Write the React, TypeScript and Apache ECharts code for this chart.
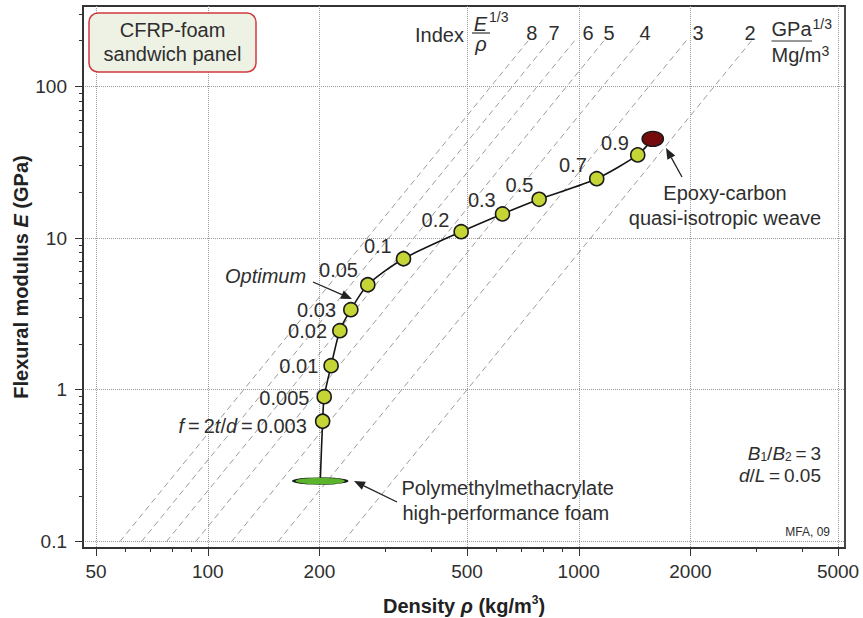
import React, { useEffect, useRef } from 'react';
import * as echarts from 'echarts';

// ---------- data (density in kg/m^3, modulus in GPa) ----------
const xTickValues = [50, 100, 200, 500, 1000, 2000, 5000];
const xMinorTickValues = [60, 70, 80, 90, 300, 400, 600, 700, 800, 900, 3000, 4000];
const yTickValues = [0.1, 1, 10, 100];
const yMinorTickValues = [0.2, 0.3, 0.4, 0.5, 0.6, 0.7, 0.8, 0.9, 2, 3, 4, 5, 6, 7, 8, 9, 20, 30, 40, 50, 60, 70, 80, 90, 200, 300];
const densityExtent = [46.1, 5220];
const modulusExtent = [0.0906, 338];

const faceFraction = ['0.003', '0.005', '0.01', '0.02', '0.03', '0.05', '0.1', '0.2', '0.3', '0.5', '0.7', '0.9'];
const panelDensity = [204, 206, 215, 227, 243, 270, 337, 482, 623, 782, 1118, 1442];
const panelModulus = [0.62, 0.9, 1.44, 2.45, 3.37, 4.92, 7.3, 11.0, 14.4, 18.0, 24.6, 35.3];

const foamPoint = [201, 0.25];
const epoxyPoint = [1583, 45.0];

const indexValues = ['8', '7', '6', '5', '4', '3', '2'];
const indexLineLowDensity = [58.0, 66.3, 77.4, 92.8, 116, 154.7, 232];
const indexLineHighDensity = [731, 835, 975, 1170, 1462, 1949, 2924];
const indexLineLowModulus = 0.1;
const indexLineHighModulus = 200;

// ---------- layout ----------
const FONT = '"Liberation Sans", Arial, Helvetica, sans-serif';
const TXT = '#2e2e2e';
const pointLabelOffsets = [
  [-3, 5], [-2, 1], [0, 0], [0, 0], [-2, 0], [3, -15],
  [1, -13], [1, -12], [6, -14], [7, -14], [3, -14], [4, -12],
];
const indexLabelX = [531.7, 554, 588, 609, 645, 698, 750];

const L = (v: number) => Math.log10(v);

function txt(x: number, y: number, text: string, extra: any = {}) {
  const align = extra.align || 'left';
  return {
    type: 'text',
    x,
    y,
    z: 20,
    style: {
      text,
      fill: TXT,
      fontSize: extra.fontSize || 20,
      fontFamily: FONT,
      fontStyle: extra.fontStyle || 'normal',
      align,
      textAlign: align,
      verticalAlign: 'middle',
      textVerticalAlign: 'middle',
      rich: extra.rich,
    },
  };
}

function arrow(x1: number, y1: number, x2: number, y2: number) {
  const dx = x2 - x1;
  const dy = y2 - y1;
  const len = Math.hypot(dx, dy);
  const ux = dx / len;
  const uy = dy / len;
  const hl = 11;
  const hw = 4.5;
  const bx = x2 - ux * hl;
  const by = y2 - uy * hl;
  const px = -uy;
  const py = ux;
  return [
    { type: 'line', z: 20, shape: { x1, y1, x2: bx, y2: by }, style: { stroke: '#222', lineWidth: 1.3 } },
    {
      type: 'polygon',
      z: 20,
      shape: { points: [[x2, y2], [bx + px * hw, by + py * hw], [bx - px * hw, by - py * hw]] },
      style: { fill: '#222' },
    },
  ];
}

const richBase = (size: number, extra: any = {}) => ({ fontSize: size, fontFamily: FONT, fill: TXT, color: TXT, ...extra });

const fmt = (v: number) => String(Math.round(Math.pow(10, v) * 1000) / 1000);

export default function App() {
  const ref = useRef<HTMLDivElement>(null);

  useEffect(() => {
    if (!ref.current) return;
    const chart = echarts.init(ref.current, null, { renderer: 'svg', width: 863, height: 618 });

    const axisLineStyle = { color: '#333', width: 1.8 };
    const nameRich = {
      b: { fontFamily: FONT, fontWeight: 'bold', fontSize: 20, color: '#222', lineHeight: 24 },
      i: { fontFamily: FONT, fontWeight: 'bold', fontStyle: 'italic', fontSize: 20, color: '#222', lineHeight: 24 },
      s: { fontFamily: FONT, fontWeight: 'bold', fontSize: 12, color: '#222', verticalAlign: 'top' },
    };

    const xMin = L(densityExtent[0]);
    const xMax = L(densityExtent[1]);
    const yMin = L(modulusExtent[0]);
    const yMax = L(modulusExtent[1]);

    const indexSeries = indexValues.map((name, i) => ({
      type: 'line',
      name: 'index ' + name,
      xAxisIndex: 0,
      yAxisIndex: 0,
      data: [
        [L(indexLineLowDensity[i]), L(indexLineLowModulus)],
        [L(indexLineHighDensity[i]), L(indexLineHighModulus)],
      ],
      symbol: 'none',
      silent: true,
      z: 1,
      lineStyle: { color: '#9c9c9c', width: 1, type: [6, 4] },
    }));

    const curveData = [foamPoint, ...panelDensity.map((d, i) => [d, panelModulus[i]]), epoxyPoint].map((p) => [
      L(p[0]),
      L(p[1]),
    ]);

    const pointData = panelDensity.map((d, i) => ({
      value: [L(d), L(panelModulus[i])],
      label: { offset: pointLabelOffsets[i] },
    }));

    const option: any = {
      animation: false,
      backgroundColor: '#ffffff',
      textStyle: { fontFamily: FONT },
      grid: {
        left: 83,
        right: 18,
        top: 6,
        bottom: 70,
        show: true,
        borderColor: '#333',
        borderWidth: 1.8,
        containLabel: false,
        outerBoundsMode: 'none',
      },
      xAxis: [
        {
          type: 'value',
          min: xMin,
          max: xMax,
          position: 'bottom',
          name: '{b|Density }{i|ρ}{b| (kg/m}{s|3}{b|)}',
          nameLocation: 'middle',
          nameGap: 46,
          nameMoveOverlap: false,
          nameTextStyle: { rich: nameRich },
          axisLine: { show: true, onZero: false, lineStyle: axisLineStyle },
          axisTick: { show: true, inside: false, length: 8, customValues: xTickValues.map(L), lineStyle: { color: '#333', width: 1 } },
          axisLabel: {
            customValues: xTickValues.map(L),
            formatter: fmt,
            fontSize: 19,
            fontFamily: FONT,
            color: TXT,
            margin: 14,
          },
          splitLine: { show: true, lineStyle: { color: '#9a9a9a', type: 'dotted', width: 1 } },
        },
        {
          type: 'value',
          min: xMin,
          max: xMax,
          position: 'bottom',
          axisLine: { show: false, onZero: false },
          axisTick: { show: true, length: 4, customValues: xMinorTickValues.map(L), lineStyle: { color: '#333', width: 1 } },
          axisLabel: { show: false },
          splitLine: { show: false },
        },
      ],
      yAxis: [
        {
          type: 'value',
          min: yMin,
          max: yMax,
          position: 'left',
          name: '{b|Flexural modulus }{i|E}{b| (GPa)}',
          nameLocation: 'middle',
          nameRotate: 90,
          nameGap: 50,
          nameMoveOverlap: false,
          nameTextStyle: { rich: nameRich },
          axisLine: { show: true, onZero: false, lineStyle: axisLineStyle },
          axisTick: { show: true, length: 8, customValues: yTickValues.map(L), lineStyle: { color: '#333', width: 1 } },
          axisLabel: {
            customValues: yTickValues.map(L),
            formatter: fmt,
            fontSize: 19,
            fontFamily: FONT,
            color: TXT,
            margin: 16,
          },
          splitLine: { show: true, lineStyle: { color: '#9a9a9a', type: 'dotted', width: 1 } },
        },
        {
          type: 'value',
          min: yMin,
          max: yMax,
          position: 'left',
          axisLine: { show: false, onZero: false },
          axisTick: { show: true, length: 4, customValues: yMinorTickValues.map(L), lineStyle: { color: '#333', width: 1 } },
          axisLabel: { show: false },
          splitLine: { show: false },
        },
      ],
      series: [
        ...indexSeries,
        {
          type: 'line',
          name: 'panel curve',
          xAxisIndex: 0,
          yAxisIndex: 0,
          data: curveData,
          smooth: 0.25,
          symbol: 'none',
          silent: true,
          z: 3,
          lineStyle: { color: '#151515', width: 1.6 },
        },
        {
          type: 'scatter',
          name: 'foam',
          xAxisIndex: 0,
          yAxisIndex: 0,
          data: [[L(foamPoint[0]), L(foamPoint[1])]],
          symbol: 'circle',
          symbolSize: [53, 7],
          z: 4,
          itemStyle: { color: '#5cb32c', borderColor: '#1a1a1a', borderWidth: 1.3, opacity: 1 },
        },
        {
          type: 'scatter',
          name: 'epoxy-carbon',
          xAxisIndex: 0,
          yAxisIndex: 0,
          data: [[L(epoxyPoint[0]), L(epoxyPoint[1])]],
          symbol: 'circle',
          symbolSize: [21, 15],
          z: 4,
          itemStyle: { color: '#760b0e', borderColor: '#1a1a1a', borderWidth: 1.5, opacity: 1 },
        },
        {
          type: 'scatter',
          name: 'panels',
          xAxisIndex: 0,
          yAxisIndex: 0,
          data: pointData,
          symbol: 'circle',
          symbolSize: 14,
          z: 5,
          itemStyle: { color: '#c5d536', borderColor: '#1a1a1a', borderWidth: 1.6, opacity: 1 },
          label: {
            show: true,
            position: 'left',
            distance: 5,
            fontSize: 20,
            fontFamily: FONT,
            color: TXT,
            opacity: 1,
            formatter: (p: any) =>
              p.dataIndex === 0
                ? '{i|f}\u2009=\u20092{i|t}/{i|d}\u2009=\u2009' + faceFraction[0]
                : faceFraction[p.dataIndex],
            rich: {
              i: { fontStyle: 'italic', fontSize: 20, fontFamily: FONT, color: TXT },
            },
          },
        },
      ],
      graphic: [
        {
          type: 'rect',
          z: 15,
          shape: { x: 89, y: 13, width: 167, height: 59, r: 9 },
          style: { fill: '#eef2e5', stroke: '#cf3a3f', lineWidth: 1.5 },
        },
        txt(172.5, 30, 'CFRP-foam', { align: 'center' }),
        txt(172.5, 54, 'sandwich panel', { align: 'center' }),
        // Index label
        txt(415, 35, 'Index'),
        txt(480.5, 23.5, 'E', { align: 'center', fontStyle: 'italic' }),
        txt(489, 16.5, '1/3', { fontSize: 14 }),
        { type: 'line', z: 20, shape: { x1: 472, y1: 33, x2: 490, y2: 33 }, style: { stroke: '#333', lineWidth: 1.2 } },
        txt(481, 44, 'ρ', { align: 'center', fontStyle: 'italic' }),
        ...indexValues.map((v, i) => txt(indexLabelX[i], 33, v, { align: 'center' })),
        txt(771.5, 29, 'GPa'),
        txt(812.5, 24, '1/3', { fontSize: 14 }),
        { type: 'line', z: 20, shape: { x1: 771.5, y1: 41, x2: 812, y2: 41 }, style: { stroke: '#333', lineWidth: 1.2 } },
        txt(771.5, 55, 'Mg/m'),
        txt(821.5, 51, '3', { fontSize: 14 }),
        // annotations
        txt(225, 276, 'Optimum', { fontStyle: 'italic' }),
        ...arrow(313, 282, 352, 299),
        txt(725, 192.5, 'Epoxy-carbon', { align: 'center' }),
        txt(725, 217.5, 'quasi-isotropic weave', { align: 'center' }),
        ...arrow(682, 177, 666, 148),
        txt(401.5, 488, 'Polymethylmethacrylate'),
        txt(402.5, 512.5, 'high-performance foam'),
        ...arrow(397, 502, 354, 481),
        txt(821, 453, '{i|B}{s|1}/{i|B}{s|2}\u2009=\u20093', {
          align: 'right',
          fontSize: 19,
          rich: {
            i: richBase(19, { fontStyle: 'italic', lineHeight: 19 }),
            n: richBase(19, { lineHeight: 19 }),
            s: richBase(12, { verticalAlign: 'bottom', lineHeight: 19 }),
          },
        }),
        txt(821, 475, '{i|d}/{i|L}\u2009=\u20090.05', {
          align: 'right',
          fontSize: 19,
          rich: { i: richBase(19, { fontStyle: 'italic', lineHeight: 19 }) },
        }),
        txt(830, 532, 'MFA, 09', { align: 'right', fontSize: 12 }),
      ],
    };

    chart.setOption(option);
    return () => chart.dispose();
  }, []);

  return (
    <div
      ref={ref}
      style={{ position: 'fixed', left: 0, top: 0, width: 863, height: 618, background: '#ffffff' }}
    />
  );
}
